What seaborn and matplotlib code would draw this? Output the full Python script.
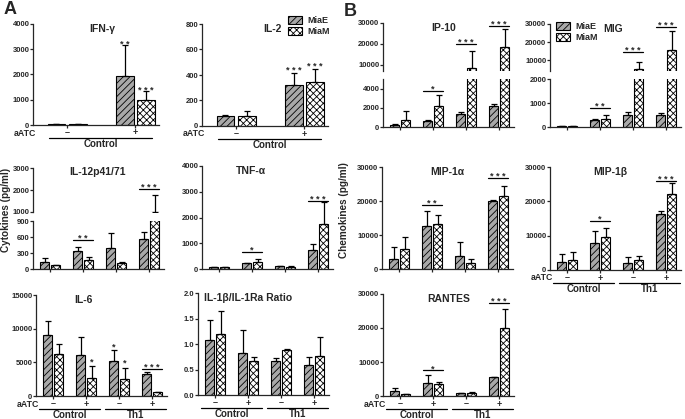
import pandas as pd
import matplotlib
matplotlib.use("Agg")
import matplotlib.pyplot as plt
import matplotlib.patches as mpatches
import matplotlib.transforms as mtransforms
import seaborn as sns

# ---- values (mean, upper error) ----
strains = ["MiaE", "MiaM"]
groups2 = ["Control -", "Control +"]
groups4 = ["Control -", "Control +", "Th1 -", "Th1 +"]
aatc2 = ["\u2013", "+"]
aatc4 = ["\u2013", "+", "\u2013", "+"]
cond2 = ["Control"]
cond4 = ["Control", "Th1"]

ifng_e, ifng_e_err = [45, 1950], [10, 1200]
ifng_m, ifng_m_err = [45, 980], [10, 350]
ifng_sig = [(1, "e", 3300, "* *"), (1, "m", 1480, "* * *")]

il2_e, il2_e_err = [80, 320], [5, 95]
il2_m, il2_m_err = [80, 345], [40, 103]
il2_sig = [(1, "e", 455, "* * *"), (1, "m", 490, "* * *")]

ip10_e, ip10_e_err = [250, 600, 1350, 2150], [100, 80, 200, 200]
ip10_m, ip10_m_err = [750, 2200, 8600, 18500], [880, 1100, 8000, 8600]
ip10_sig = [(1, "pair", 3800, "*"), (2, "pair", 20000, "* * *"), (3, "pair", 28500, "* * *")]

mig_e, mig_e_err = [30, 290, 500, 520], [10, 30, 120, 70]
mig_m, mig_m_err = [40, 350, 5200, 15600], [10, 150, 3700, 10500]
mig_sig = [(1, "pair", 800, "* *"), (2, "pair", 14400, "* * *"), (3, "pair", 28300, "* * *")]

il12_e, il12_e_err = [140, 330, 390, 560], [60, 80, 290, 140]
il12_m, il12_m_err = [70, 170, 110, 1020], [10, 60, 20, 730]
il12_sig = [(1, "pair", 540, "* *"), (3, "pair", 2050, "* * *")]

tnf_e, tnf_e_err = [80, 220, 110, 740], [10, 30, 15, 230]
tnf_m, tnf_m_err = [80, 270, 90, 1750], [10, 120, 15, 850]
tnf_sig = [(1, "pair", 660, "*"), (3, "pair", 2640, "* * *")]

mip1a_e, mip1a_e_err = [2900, 12700, 3800, 20100], [3600, 4500, 4000, 300]
mip1a_m, mip1a_m_err = [6000, 13300, 1800, 21400], [3500, 2500, 1200, 3000]
mip1a_sig = [(1, "pair", 18800, "* *"), (3, "pair", 26800, "* * *")]

mip1b_e, mip1b_e_err = [2300, 7800, 2000, 16200], [2300, 3600, 1800, 900]
mip1b_m, mip1b_m_err = [2800, 9500, 3000, 22200], [2300, 2800, 1200, 3000]
mip1b_sig = [(1, "pair", 14300, "*"), (3, "pair", 26000, "* * *")]

il6_e, il6_e_err = [9100, 6100, 5200, 3300], [2000, 2700, 1600, 200]
il6_m, il6_m_err = [6200, 2600, 2500, 600], [1500, 1800, 1700, 60]
il6_sig = [(1, "m", 5400, "*"), (2, "e", 7600, "*"), (2, "m", 5200, "*"),
           (3, "pair", 4000, "* * *")]

il1_e, il1_e_err = [1.07, 0.83, 0.67, 0.59], [0.40, 0.44, 0.06, 0.15]
il1_m, il1_m_err = [1.19, 0.66, 0.89, 0.76], [0.45, 0.08, 0.02, 0.37]
il1_sig = []

rantes_e, rantes_e_err = [1500, 3700, 800, 5500], [800, 2500, 200, 150]
rantes_m, rantes_m_err = [600, 3400, 900, 20000], [100, 800, 300, 5500]
rantes_sig = [(1, "pair", 7600, "*"), (3, "pair", 27400, "* * *")]

# ---- style ----
sns.set_style("ticks")
plt.rcParams["font.family"] = ["Liberation Sans", "DejaVu Sans"]
plt.rcParams["font.weight"] = "bold"
plt.rcParams["hatch.linewidth"] = 0.6
PALETTE = {"MiaE": "#a8a8a8", "MiaM": "white"}
HATCH = {"MiaE": "/////", "MiaM": "xxxxx"}
TICK_FS = 5.5

W, H = 685, 419
fig = plt.figure(figsize=(W / 100, H / 100), dpi=100)


def add_ax(x0, x1, ytop, ybot):
    return fig.add_axes([x0 / W, 1 - ybot / H, (x1 - x0) / W, (ybot - ytop) / H])


def bars(ax, groups, e, e_err, m, m_err):
    n = len(groups)
    df = pd.DataFrame({"group": groups * 2,
                       "strain": ["MiaE"] * n + ["MiaM"] * n,
                       "value": list(e) + list(m)})
    width, gap = (0.62, 0.15) if n == 2 else (0.67, 0.2)
    sns.barplot(data=df, x="group", y="value", hue="strain", order=groups,
                hue_order=strains, palette=PALETTE, errorbar=None,
                width=width, gap=gap, legend=False, ax=ax)
    conts = list(ax.containers)
    for cont, errs, st in zip(conts, [e_err, m_err], strains):
        xs, hs = [], []
        for p in cont:
            p.set_hatch(HATCH[st])
            p.set_edgecolor("black")
            p.set_linewidth(0.8)
            xs.append(p.get_x() + p.get_width() / 2)
            hs.append(p.get_height())
        ax.errorbar(xs, hs, yerr=[[0] * len(errs), errs], fmt="none",
                    ecolor="black", elinewidth=0.9, capsize=2.2, capthick=0.9)
    ax.set_xlabel("")
    ax.set_ylabel("")
    return conts


def setup(ax, n, ylim, yticks, fmt="{:d}"):
    ax.set_xlim(-0.5, 1.35) if n == 2 else ax.set_xlim(-0.52, 3.45)
    ax.set_ylim(*ylim)
    ax.set_yticks(yticks)
    ax.set_yticklabels([fmt.format(t) for t in yticks])
    ax.set_xticks(range(n))
    ax.set_xticklabels([])
    sns.despine(ax=ax)
    for sp in ax.spines.values():
        sp.set_linewidth(0.9)
    ax.tick_params(length=2, width=0.9, labelsize=TICK_FS, pad=0.6)


def stars(ax, conts, sig):
    for g, where, y, txt in sig:
        pe, pm = conts[0][g], conts[1][g]
        if where == "pair":
            x0, x1 = pe.get_x(), pm.get_x() + pm.get_width()
            ax.plot([x0, x1], [y, y], color="black", lw=0.9, clip_on=False)
            xc, dy = (x0 + x1) / 2, -1
        else:
            p = pe if where == "e" else pm
            xc, dy = p.get_x() + p.get_width() / 2, -5
        ax.annotate(txt, (xc, y), xytext=(0, dy), textcoords="offset pixels",
                    ha="center", va="baseline", fontsize=6.5,
                    annotation_clip=False)


def title(ax, txt, xf, yf=0.95):
    ax.text(xf, yf, txt, transform=ax.transAxes, ha="center", va="center",
            fontsize=7.5)


def xlabels(ax, signs, conds, show_aatc=True):
    tr = ax.get_xaxis_transform()
    for i, s in enumerate(signs):
        ax.annotate(s, (i, 0), xycoords=tr, xytext=(0, -8), textcoords="offset pixels",
                    ha="center", va="center", fontsize=6.5, annotation_clip=False)
    if show_aatc:
        ax.annotate("aATC", (0, 0), xycoords="axes fraction", xytext=(3, -8),
                    textcoords="offset pixels", ha="right", va="center", fontsize=6.3)
    line_tr = mtransforms.offset_copy(tr, fig=fig, y=-13, units="dots")
    pad = (-0.27, 0.25) if len(signs) == 2 else (-0.42, 0.42)
    for k, c in enumerate(conds):
        ax.plot([2 * k + pad[0], 2 * k + 1 + pad[1]], [0, 0], color="black",
                lw=0.9, transform=line_tr, clip_on=False)
        ax.annotate(c, (2 * k + 0.5, 0), xycoords=tr, xytext=(0, -19),
                    textcoords="offset pixels", ha="center", va="center",
                    fontsize=7, annotation_clip=False)


def simple(box, groups, e, ee, m, me, sig, ylim, yticks, name, tx, fmt="{:d}"):
    ax = add_ax(*box)
    conts = bars(ax, groups, e, ee, m, me)
    setup(ax, len(groups), ylim, yticks, fmt)
    stars(ax, conts, sig)
    title(ax, name, tx)
    return ax


def broken(box_hi, box_lo, groups, e, ee, m, me, sig, ylim_hi, ticks_hi,
           ylim_lo, ticks_lo, name, tx):
    hi, lo = add_ax(*box_hi), add_ax(*box_lo)
    c_hi = bars(hi, groups, e, ee, m, me)
    c_lo = bars(lo, groups, e, ee, m, me)
    setup(hi, len(groups), ylim_hi, ticks_hi)
    setup(lo, len(groups), ylim_lo, ticks_lo)
    hi.spines["bottom"].set_visible(False)
    hi.tick_params(axis="x", bottom=False)
    stars(hi, c_hi, [s for s in sig if s[2] > ylim_lo[1]])
    stars(lo, c_lo, [s for s in sig if s[2] <= ylim_lo[1]])
    title(hi, name, tx, 0.9)
    return hi, lo


# ---- panel A ----
ax = simple((33, 159, 24, 125), groups2, ifng_e, ifng_e_err, ifng_m, ifng_m_err,
            ifng_sig, (0, 4000), [0, 1000, 2000, 3000, 4000], "IFN-\u03b3", 0.55)
xlabels(ax, aatc2, cond2)
ax = simple((202, 328, 24, 126), groups2, il2_e, il2_e_err, il2_m, il2_m_err,
            il2_sig, (0, 800), [0, 200, 400, 600, 800], "IL-2", 0.56)
xlabels(ax, aatc2, cond2)

broken((33, 164, 168, 212), (33, 164, 221, 269), groups4, il12_e, il12_e_err,
       il12_m, il12_m_err, il12_sig, (1000, 3000), [1000, 2000, 3000],
       (0, 900), [0, 300, 600, 900], "IL-12p41/71", 0.49)
simple((202, 333, 166, 269), groups4, tnf_e, tnf_e_err, tnf_m, tnf_m_err,
       tnf_sig, (0, 4000), [0, 1000, 2000, 3000, 4000], "TNF-\u03b1", 0.37)

ax = simple((36, 167, 295, 396), groups4, il6_e, il6_e_err, il6_m, il6_m_err,
            il6_sig, (0, 15000), [0, 5000, 10000, 15000], "IL-6", 0.36)
xlabels(ax, aatc4, cond4)
ax = simple((198, 329, 293, 395), groups4, il1_e, il1_e_err, il1_m, il1_m_err,
            il1_sig, (0, 2), [0, 0.5, 1.0, 1.5, 2.0], "IL-1\u03b2/IL-1Ra Ratio",
            0.38, fmt="{:.1f}")
xlabels(ax, aatc4, cond4, show_aatc=False)

# ---- panel B ----
broken((383, 514, 23, 71), (383, 514, 79, 127), groups4, ip10_e, ip10_e_err,
       ip10_m, ip10_m_err, ip10_sig, (7000, 30000), [10000, 20000, 30000],
       (0, 5000), [0, 2000, 4000], "IP-10", 0.46)
broken((550, 681, 24, 71), (550, 681, 79, 127), groups4, mig_e, mig_e_err,
       mig_m, mig_m_err, mig_sig, (4000, 30000), [10000, 20000, 30000],
       (0, 2000), [0, 1000, 2000], "MIG", 0.48)
simple((382, 513, 167, 269), groups4, mip1a_e, mip1a_e_err, mip1a_m, mip1a_m_err,
       mip1a_sig, (0, 30000), [0, 10000, 20000, 30000], "MIP-1\u03b1", 0.5)
ax = simple((550, 681, 167, 270), groups4, mip1b_e, mip1b_e_err, mip1b_m,
            mip1b_m_err, mip1b_sig, (0, 30000), [0, 10000, 20000, 30000],
            "MIP-1\u03b2", 0.46)
xlabels(ax, aatc4, cond4)
ax = simple((383, 514, 294, 396), groups4, rantes_e, rantes_e_err, rantes_m,
            rantes_m_err, rantes_sig, (0, 30000), [0, 10000, 20000, 30000],
            "RANTES", 0.5)
xlabels(ax, aatc4, cond4)

# ---- legends, axis titles, panel letters ----
handles = [mpatches.Patch(facecolor=PALETTE[s], edgecolor="black", hatch=HATCH[s],
                          linewidth=0.8, label=s) for s in strains]
for x0, y0 in [(288, 16), (556, 22)]:
    fig.legend(handles=handles, loc="upper left", bbox_to_anchor=(x0 / W, 1 - y0 / H),
               frameon=False, fontsize=6.5, handlelength=1.6, handleheight=0.9,
               labelspacing=0.25, handletextpad=0.5, borderpad=0, borderaxespad=0)

fig.text(6 / W, 1 - 210 / H, "Cytokines (pg/ml)", rotation=90, ha="center",
         va="center", fontsize=7.2)
fig.text(344 / W, 1 - 210 / H, "Chemokines (pg/ml)", rotation=90, ha="center",
         va="center", fontsize=7.2)
fig.text(10 / W, 1 - 10 / H, "A", ha="center", va="center", fontsize=13)
fig.text(350 / W, 1 - 11 / H, "B", ha="center", va="center", fontsize=13)

fig.savefig("out.png", dpi=100)
plt.close(fig)
